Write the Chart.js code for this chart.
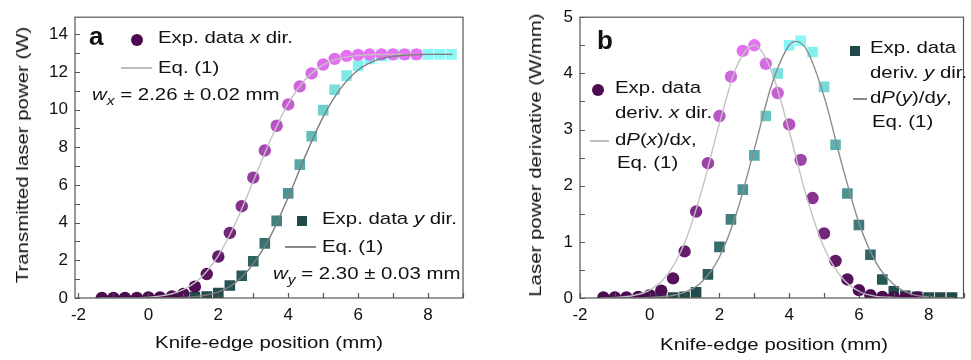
<!DOCTYPE html>
<html>
<head>
<meta charset="utf-8">
<script src="https://cdn.jsdelivr.net/npm/chart.js@4"></script>
<style>
  body { margin: 0; background: #fff; }
  #wrap { position: relative; width: 971px; height: 360px; overflow: hidden; }
  canvas { position: absolute; top: 0; }
  .lab { position: absolute; font: 17px 'Liberation Sans', Arial, sans-serif; line-height: 20px; white-space: nowrap; color: #111;
         transform-origin: 0 50%; transform: scaleX(1.2); }
  .lab sub { font-size: 13px; vertical-align: -5px; line-height: 0; }
  .big { font-weight: bold; font-size: 26px; line-height: 30px; transform: none; }
  .ttl { position: absolute; font: 17px 'Liberation Sans', Arial, sans-serif; line-height: 20px; white-space: nowrap; color: #111;
         transform: translate(-50%, -50%) scaleX(1.2); }
  .ttl.v { transform: translate(-50%, -50%) rotate(-90deg) scaleX(1.2); }
  .mk { position: absolute; }
</style>
</head>
<body>
<div id="wrap">
  <canvas id="powerChart" style="left:0" width="480" height="360"></canvas>
  <canvas id="derivChart" style="left:490px" width="481" height="360"></canvas>

  <div class="ttl" style="left:269px;top:343px">Knife-edge position (mm)</div>
  <div class="ttl v" style="left:23px;top:155px">Transmitted laser power (W)</div>
  <div class="ttl" style="left:774px;top:345px">Knife-edge position (mm)</div>
  <div class="ttl v" style="left:536px;top:155px">Laser power derivative (W/mm)</div>

  <div class="lab big" style="left:89px;top:21px">a</div>
  <div class="mk" style="left:131px;top:34px;width:12px;height:12px;border-radius:50%;background:#4b0a50"></div>
  <div class="lab" style="left:158px;top:28px">Exp. data <i>x</i> dir.</div>
  <div class="mk" style="left:121px;top:67px;width:31px;height:1.5px;background:#bdbdbd"></div>
  <div class="lab" style="left:158px;top:58px">Eq. (1)</div>
  <div class="lab" style="left:92px;top:85px"><i>w</i><sub><i>x</i></sub> = 2.26 ± 0.02 mm</div>

  <div class="mk" style="left:297px;top:216px;width:10px;height:10px;background:#1f4a48"></div>
  <div class="lab" style="left:322px;top:209px">Exp. data <i>y</i> dir.</div>
  <div class="mk" style="left:285px;top:246px;width:31px;height:1.5px;background:#8a8a8a"></div>
  <div class="lab" style="left:322px;top:237px">Eq. (1)</div>
  <div class="lab" style="left:273px;top:264px"><i>w</i><sub><i>y</i></sub> = 2.30 ± 0.03 mm</div>

  <div class="lab big" style="left:597px;top:25px">b</div>
  <div class="mk" style="left:592px;top:84px;width:12px;height:12px;border-radius:50%;background:#4b0a50"></div>
  <div class="lab" style="left:615px;top:78px">Exp. data</div>
  <div class="lab" style="left:615px;top:103px">deriv. <i>x</i> dir.</div>
  <div class="mk" style="left:590px;top:140px;width:19px;height:1.5px;background:#bdbdbd"></div>
  <div class="lab" style="left:615px;top:130px">d<i>P</i>(<i>x</i>)/d<i>x</i>,</div>
  <div class="lab" style="left:617px;top:153px">Eq. (1)</div>

  <div class="mk" style="left:850px;top:46px;width:10px;height:10px;background:#1f4a48"></div>
  <div class="lab" style="left:870px;top:38px">Exp. data</div>
  <div class="lab" style="left:870px;top:63px">deriv. <i>y</i> dir.</div>
  <div class="mk" style="left:853px;top:98px;width:14px;height:1.5px;background:#8a8a8a"></div>
  <div class="lab" style="left:870px;top:88px">d<i>P</i>(<i>y</i>)/d<i>y</i>,</div>
  <div class="lab" style="left:872px;top:112px">Eq. (1)</div>
</div>

<script>
// knife-edge positions (mm)
let posX = [-1.33, -1, -0.67, -0.33, 0, 0.33, 0.67, 1, 1.33, 1.67, 2, 2.33, 2.67, 3, 3.33, 3.67, 4, 4.33, 4.67, 5, 5.33, 5.67, 6, 6.33, 6.67, 7, 7.33, 7.67];
let posY = [1.33, 1.67, 2, 2.33, 2.67, 3, 3.33, 3.67, 4, 4.33, 4.67, 5, 5.33, 5.67, 6, 6.33, 6.67, 7, 7.33, 7.67, 8, 8.33, 8.67];
let posYd = [0.33, 0.67, 1, 1.33, 1.67, 2, 2.33, 2.67, 3, 3.33, 3.67, 4, 4.33, 4.67, 5, 5.33, 5.67, 6, 6.33, 6.67, 7, 7.33, 7.67, 8, 8.33, 8.67];

// transmitted power (W)
let powerX = [0, 0, 0, 0, 0.03, 0.03, 0.08, 0.22, 0.6, 1.27, 2.2, 3.45, 4.87, 6.39, 7.83, 9.14, 10.27, 11.23, 11.92, 12.39, 12.69, 12.85, 12.9, 12.92, 12.93, 12.93, 12.93, 12.93];
let powerY = [0.05, 0.08, 0.26, 0.66, 1.18, 1.95, 2.9, 4.09, 5.55, 7.08, 8.58, 9.97, 11.05, 11.8, 12.32, 12.69, 12.85, 12.9, 12.92, 12.93, 12.93, 12.93, 12.93];

// power derivative (W/mm)
let derivX = [0.01, 0.01, 0.01, 0.02, 0.05, 0.13, 0.35, 0.83, 1.54, 2.4, 3.24, 3.94, 4.4, 4.5, 4.17, 3.65, 3.09, 2.46, 1.78, 1.15, 0.66, 0.33, 0.14, 0.05, 0.02, 0.01, 0.01, 0.01];
let derivY = [0.02, 0.01, 0.02, 0.1, 0.42, 0.91, 1.4, 1.93, 2.54, 3.24, 4.0, 4.5, 4.58, 4.38, 3.76, 2.73, 1.86, 1.3, 0.77, 0.33, 0.12, 0.04, 0.02, 0.01, 0.01, 0.01];

// Eq. (1) curves
let fitPos = [-1.4, -1, -0.5, 0, 0.5, 1, 1.5, 2, 2.5, 3, 3.5, 4, 4.5, 5, 5.5, 6, 6.5, 7, 7.5, 8, 8.7];
let fitPx = [0, 0, 0.01, 0.04, 0.15, 0.45, 1.08, 2.25, 4.01, 6.19, 8.42, 10.31, 11.62, 12.37, 12.73, 12.87, 12.92, 12.93, 12.93, 12.93, 12.93];
let fitPy = [0, 0, 0, 0, 0.01, 0.03, 0.11, 0.32, 0.83, 1.81, 3.32, 5.35, 7.58, 9.61, 11.12, 12.1, 12.61, 12.82, 12.9, 12.93, 12.93];
let fitDx = [0, 0.01, 0.04, 0.14, 0.41, 0.98, 1.93, 3.11, 4.13, 4.5, 4.03, 2.97, 1.8, 0.9, 0.37, 0.12, 0.03, 0.01, 0, 0, 0];
let fitPosDy = [-1.4, -1, -0.5, 0, 0.5, 1, 1.5, 2, 2.5, 3, 3.5, 4, 4.2, 4.5, 5, 5.5, 6, 6.5, 7, 7.5, 8, 8.7];
let fitDy = [0, 0, 0, 0.01, 0.03, 0.1, 0.29, 0.73, 1.53, 2.65, 3.8, 4.5, 4.57, 4.42, 3.59, 2.41, 1.34, 0.62, 0.24, 0.07, 0.02, 0];

// tick labels
let xTicks = [-2, 0, 2, 4, 6, 8];
let yTicksA = [0, 2, 4, 6, 8, 10, 12, 14];
let yTicksB = [0, 1, 2, 3, 4, 5];

const font = { family: "'Liberation Sans', Arial, sans-serif", size: 17 };
const purpleDark = [75, 10, 80], purpleLight = [228, 114, 242];
const tealDark = [31, 74, 72], tealLight = [136, 248, 248];

function pts(xs, ys) {
  return xs.map((x, i) => ({ x: x, y: ys[i] }));
}

// point colour follows its value
function shade(vals, c0, c1) {
  let max = Math.max(...vals);
  return vals.map(v => {
    let t = v / max;
    let c = c0.map((a, k) => Math.round(a + (c1[k] - a) * t));
    return 'rgb(' + c.join(',') + ')';
  });
}

// frame + inward tick marks
const frame = {
  id: 'frame',
  afterDraw(chart, args, opts) {
    let c = chart.ctx, a = chart.chartArea;
    let xs = chart.scales.x, ys = chart.scales.y;
    c.save();
    c.strokeStyle = '#555';
    c.lineWidth = 1.2;
    c.strokeRect(a.left, a.top, a.right - a.left, a.bottom - a.top);
    c.beginPath();
    for (let v = opts.xFrom; v <= xs.max + 1e-9; v += opts.xStep) {
      let px = Math.round(xs.getPixelForValue(v)) + 0.5;
      c.moveTo(px, a.bottom);
      c.lineTo(px, a.bottom - 5);
    }
    for (let v = 0; v <= ys.max + 1e-9; v += opts.yStep) {
      let py = Math.round(ys.getPixelForValue(v)) + 0.5;
      c.moveTo(a.left, py);
      c.lineTo(a.left + 5, py);
    }
    c.stroke();
    c.restore();
  }
};

function lineSet(xs, ys, color, order) {
  return {
    data: pts(xs, ys), showLine: true, borderColor: color, borderWidth: 1.4,
    pointRadius: 0, cubicInterpolationMode: 'monotone', order: order, clip: 0
  };
}

function pointSet(xs, ys, style, radius, c0, c1, order) {
  return {
    data: pts(xs, ys), showLine: false, pointStyle: style, pointRadius: radius,
    pointBackgroundColor: shade(ys, c0, c1), pointBorderWidth: 0, order: order, clip: 0
  };
}

function makeOptions(yMax, yTicks, xMin, yWidth, pad) {
  return {
    responsive: false,
    animation: false,
    layout: { padding: pad },
    plugins: {
      legend: { display: false },
      tooltip: { enabled: false },
      frame: { xFrom: -2, xStep: 1, yStep: yMax > 10 ? 1 : 0.5 }
    },
    scales: {
      x: {
        type: 'linear', min: xMin, max: 9,
        grid: { display: false, drawTicks: false }, border: { display: false },
        afterBuildTicks: (s) => { s.ticks = xTicks.map(v => ({ value: v })); },
        afterFit: (s) => { s.height = 62; },
        ticks: { color: '#111', font: font, padding: 7, maxRotation: 0 }
      },
      y: {
        type: 'linear', min: 0, max: yMax,
        grid: { display: false, drawTicks: false }, border: { display: false },
        afterBuildTicks: (s) => { s.ticks = yTicks.map(v => ({ value: v })); },
        afterFit: (s) => { s.width = yWidth; },
        ticks: { color: '#111', font: font, padding: 7 }
      }
    }
  };
}

// eslint-disable-next-line no-unused-vars
let powerChart = new Chart(document.getElementById('powerChart'), {
  type: 'scatter',
  data: {
    datasets: [
      lineSet(fitPos, fitPy, '#7c7c7c', 0),
      lineSet(fitPos, fitPx, '#c2c2c2', 1),
      pointSet(posX, powerX, 'circle', 6.2, purpleDark, purpleLight, 2),
      pointSet(posY, powerY, 'rect', 7.5, tealDark, tealLight, 3)
    ]
  },
  options: makeOptions(14.9, yTicksA, -2.1, 75, { left: 0, top: 13, right: 17, bottom: 0 }),
  plugins: [frame]
});

// eslint-disable-next-line no-unused-vars
let derivChart = new Chart(document.getElementById('derivChart'), {
  type: 'scatter',
  data: {
    datasets: [
      lineSet(fitPosDy, fitDy, '#8c8c8c', 0),
      lineSet(fitPos, fitDx, '#c2c2c2', 1),
      pointSet(posX, derivX, 'circle', 6.2, purpleDark, purpleLight, 2),
      pointSet(posYd, derivY, 'rect', 7.5, tealDark, tealLight, 3)
    ]
  },
  options: makeOptions(5, yTicksB, -2, 90, { left: 0, top: 12, right: 3, bottom: 0 }),
  plugins: [frame]
});
</script>
</body>
</html>
